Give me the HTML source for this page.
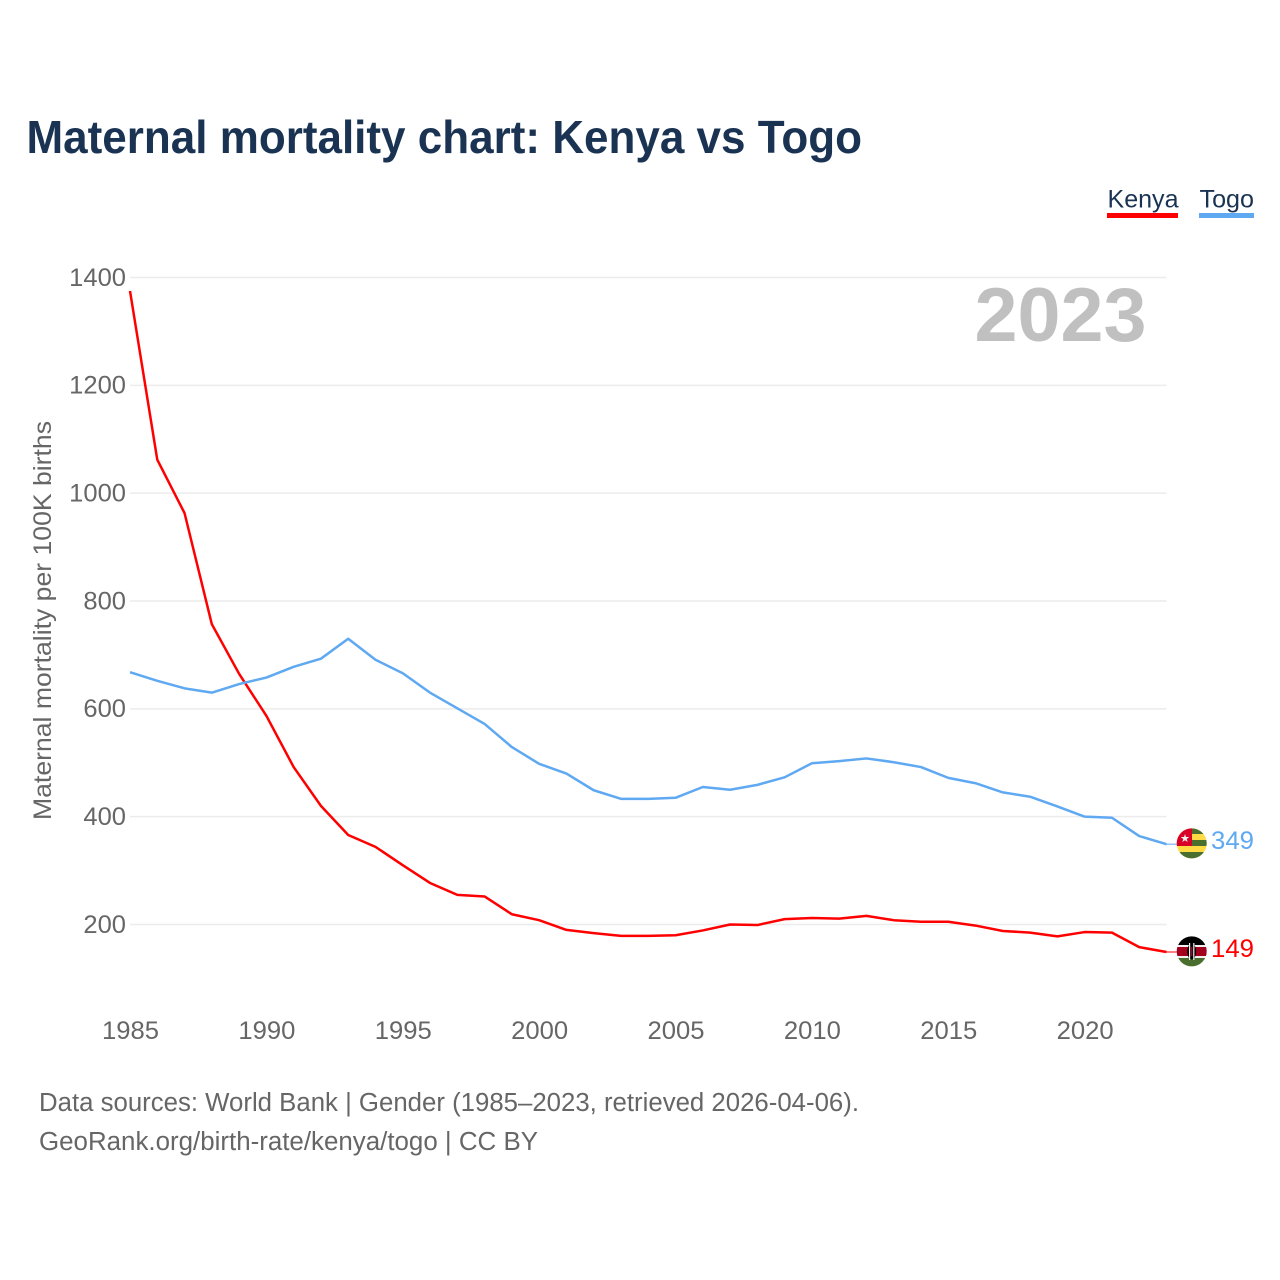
<!DOCTYPE html>
<html lang="en">
<head>
<meta charset="utf-8">
<title>Maternal mortality chart: Kenya vs Togo</title>
<style>
html,body{margin:0;padding:0;background:#fff;}
svg{display:block;font-family:"Liberation Sans",sans-serif;}
</style>
</head>
<body>
<svg id="chart" xmlns="http://www.w3.org/2000/svg" width="1280" height="1280" viewBox="0 0 1280 1280">
  <rect width="1280" height="1280" fill="#fff"/>
  <text x="26.5" y="153" font-size="46" font-weight="700" fill="#1a3353" textLength="835.5" lengthAdjust="spacingAndGlyphs">Maternal mortality chart: Kenya vs Togo</text>

  <g>
    <g>
      <text x="1107.5" y="207.5" font-size="25" fill="#1a3353" textLength="71" lengthAdjust="spacingAndGlyphs">Kenya</text>
      <rect x="1107" y="213" width="71" height="5" fill="#ff0000"/>
    </g>
    <g>
      <text x="1199.5" y="207.5" font-size="25" fill="#1a3353" textLength="54.5" lengthAdjust="spacingAndGlyphs">Togo</text>
      <rect x="1199" y="213" width="55" height="5" fill="#5fa8f2"/>
    </g>
  </g>

  <g id="grid"></g>
  <g id="yticks"></g>
  <g id="xticks"></g>

  <text x="1146.5" y="341" text-anchor="end" font-size="76" font-weight="700" fill="#c0c0c0" textLength="172" lengthAdjust="spacingAndGlyphs">2023</text>

  <text transform="translate(51,820) rotate(-90)" font-size="25" fill="#666" textLength="399" lengthAdjust="spacingAndGlyphs">Maternal mortality per 100K births</text>

  <g id="series"></g>

  <defs>
    <clipPath id="flag-clip-togo"><circle cx="1191.7" cy="843.4" r="15"/></clipPath>
    <clipPath id="flag-clip-kenya"><circle cx="1191.7" cy="951.4" r="15"/></clipPath>
  </defs>

  <g clip-path="url(#flag-clip-togo)">
    <rect x="1176" y="828" width="32" height="31" fill="#ffda44"/>
    <rect x="1191.5" y="828" width="16" height="6" fill="#496e2d"/>
    <rect x="1191.5" y="840" width="16" height="6" fill="#496e2d"/>
    <rect x="1176" y="852" width="32" height="7" fill="#496e2d"/>
    <rect x="1176" y="828" width="16" height="18" fill="#d80027"/>
    <polygon points="1185,834 1186,837 1189.3,837 1186.7,839 1187.7,842 1185,840.2 1182.3,842 1183.3,839 1180.7,837 1184,837" fill="#f0f0f0"/>
  </g>
  <g clip-path="url(#flag-clip-kenya)">
    <rect x="1176" y="936" width="32" height="9" fill="#000"/>
    <rect x="1176" y="945" width="32" height="13" fill="#f0f0f0"/>
    <rect x="1176" y="947" width="32" height="9" fill="#a2001d"/>
    <rect x="1176" y="958" width="32" height="9" fill="#496e2d"/>
    <ellipse cx="1191.7" cy="951.5" rx="4.5" ry="8" fill="#000"/>
    <rect x="1189" y="943" width="1.2" height="17" fill="#f0f0f0"/>
    <rect x="1193.2" y="943" width="1.2" height="17" fill="#f0f0f0"/>
    <rect x="1191" y="947" width="1.4" height="9" fill="#a2001d"/>
  </g>

  <text id="end-togo" x="1254" y="849" text-anchor="end" font-size="25" fill="#5fa8f2" textLength="43" lengthAdjust="spacingAndGlyphs"></text>
  <text id="end-kenya" x="1254" y="957" text-anchor="end" font-size="25" fill="#ff0000" textLength="43" lengthAdjust="spacingAndGlyphs"></text>

  <g>
    <text x="39" y="1111" font-size="25.5" fill="#666" textLength="820" lengthAdjust="spacingAndGlyphs">Data sources: World Bank | Gender (1985–2023, retrieved 2026-04-06).</text>
    <text x="39" y="1150" font-size="25.5" fill="#666" textLength="499" lengthAdjust="spacingAndGlyphs">GeoRank.org/birth-rate/kenya/togo | CC BY</text>
  </g>
</svg>
<script>
var years = [1985,1986,1987,1988,1989,1990,1991,1992,1993,1994,1995,1996,1997,1998,1999,2000,2001,2002,2003,2004,2005,2006,2007,2008,2009,2010,2011,2012,2013,2014,2015,2016,2017,2018,2019,2020,2021,2022,2023];
var kenya = [1375,1062,963,757,665,587,492,420,366,344,310,277,255,252,219,208,190,184,179,179,180,189,200,199,210,212,211,216,208,205,205,198,188,185,178,186,185,158,149];
var togo = [668,652,638,630,646,658,678,693,730,691,666,630,601,572,529,498,480,449,433,433,435,455,450,459,473,499,503,508,501,492,472,462,445,437,419,400,398,364,349];
var yTickValues = [200,400,600,800,1000,1200,1400];
var xTickValues = [1985,1990,1995,2000,2005,2010,2015,2020];

var SVG_NS = 'http://www.w3.org/2000/svg';
function xScale(year){ return 130 + (year - 1985) * (1166.5 - 130) / (2023 - 1985); }
function yScale(value){ return 924.5 - (value - 200) * (924.5 - 277.5) / (1400 - 200); }

var gridGroup = document.getElementById('grid');
var yTickGroup = document.getElementById('yticks');
var xTickGroup = document.getElementById('xticks');
var seriesGroup = document.getElementById('series');

yTickValues.forEach(function(v){
  var line = document.createElementNS(SVG_NS, 'line');
  
  
  line.setAttribute('x1', xScale(1985));
  line.setAttribute('x2', xScale(2023));
  line.setAttribute('y1', yScale(v));
  line.setAttribute('y2', yScale(v));
  line.setAttribute('stroke', '#ececec');
  line.setAttribute('stroke-width', 1.5);
  gridGroup.appendChild(line);

  var label = document.createElementNS(SVG_NS, 'text');
  
  
  label.setAttribute('x', 126);
  label.setAttribute('y', yScale(v) + 8.3);
  label.setAttribute('text-anchor', 'end');
  label.setAttribute('font-size', 25);
  label.setAttribute('fill', '#666');
  label.setAttribute('textLength', String(v).length * 14.2);
  label.setAttribute('lengthAdjust', 'spacingAndGlyphs');
  label.textContent = String(v);
  yTickGroup.appendChild(label);
});

xTickValues.forEach(function(year){
  var label = document.createElementNS(SVG_NS, 'text');
  
  
  label.setAttribute('x', xScale(year) + 0.5);
  label.setAttribute('y', 1039);
  label.setAttribute('text-anchor', 'middle');
  label.setAttribute('font-size', 25);
  label.setAttribute('fill', '#666');
  label.setAttribute('textLength', 57);
  label.setAttribute('lengthAdjust', 'spacingAndGlyphs');
  label.textContent = String(year);
  xTickGroup.appendChild(label);
});

function pointsFor(values){
  return values.map(function(v, i){
    return xScale(years[i]).toFixed(2) + ',' + yScale(v).toFixed(2);
  }).join(' ');
}

var kenyaLine = document.createElementNS(SVG_NS, 'polyline');


kenyaLine.setAttribute('points', pointsFor(kenya));
kenyaLine.setAttribute('fill', 'none');
kenyaLine.setAttribute('stroke', '#ff0000');
kenyaLine.setAttribute('stroke-width', 2.5);
kenyaLine.setAttribute('stroke-linejoin', 'round');
seriesGroup.appendChild(kenyaLine);

var togoLine = document.createElementNS(SVG_NS, 'polyline');


togoLine.setAttribute('points', pointsFor(togo));
togoLine.setAttribute('fill', 'none');
togoLine.setAttribute('stroke', '#5fa8f2');
togoLine.setAttribute('stroke-width', 2.5);
togoLine.setAttribute('stroke-linejoin', 'round');
seriesGroup.appendChild(togoLine);

var kenyaLeader = document.createElementNS(SVG_NS, 'line');


kenyaLeader.setAttribute('x1', xScale(2023));
kenyaLeader.setAttribute('x2', 1178);
kenyaLeader.setAttribute('y1', yScale(kenya[kenya.length - 1]));
kenyaLeader.setAttribute('y2', yScale(kenya[kenya.length - 1]));
kenyaLeader.setAttribute('stroke', '#ff0000');
kenyaLeader.setAttribute('stroke-width', 1);
seriesGroup.appendChild(kenyaLeader);

var togoLeader = document.createElementNS(SVG_NS, 'line');


togoLeader.setAttribute('x1', xScale(2023));
togoLeader.setAttribute('x2', 1178);
togoLeader.setAttribute('y1', yScale(togo[togo.length - 1]));
togoLeader.setAttribute('y2', yScale(togo[togo.length - 1]));
togoLeader.setAttribute('stroke', '#5fa8f2');
togoLeader.setAttribute('stroke-width', 1);
seriesGroup.appendChild(togoLeader);

document.getElementById('end-kenya').textContent = String(kenya[kenya.length - 1]);
document.getElementById('end-togo').textContent = String(togo[togo.length - 1]);
</script>
</body>
</html>
